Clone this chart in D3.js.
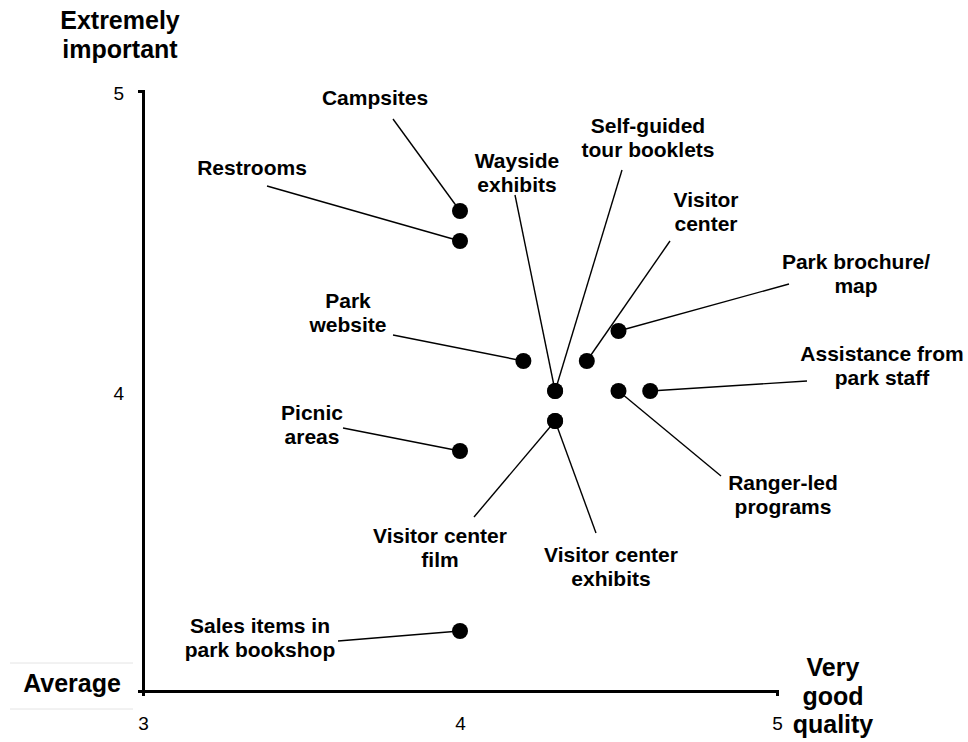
<!DOCTYPE html>
<html>
<head>
<meta charset="utf-8">
<script src="https://cdn.jsdelivr.net/npm/d3@7"></script>
<style>
  html, body { margin: 0; padding: 0; background: #fff; }
  svg { display: block; font-family: "Liberation Sans", Arial, sans-serif; }
</style>
</head>
<body>
<svg id="chart" width="968" height="742"></svg>
<script>
// ---- data ----
const items = [
  "Campsites", "Restrooms", "Wayside\nexhibits", "Self-guided\ntour booklets",
  "Visitor\ncenter", "Park brochure/\nmap", "Park\nwebsite", "Assistance from\npark staff",
  "Ranger-led\nprograms", "Picnic\nareas", "Visitor center\nfilm", "Visitor center\nexhibits",
  "Sales items in\npark bookshop"
];
const quality    = [4.0, 4.0, 4.3, 4.3, 4.4, 4.5, 4.2, 4.6, 4.5, 4.0, 4.3, 4.3, 4.0];
const importance = [4.6, 4.5, 4.0, 4.0, 4.1, 4.2, 4.1, 4.0, 4.0, 3.8, 3.9, 3.9, 3.2];
const xTicks = [3, 4, 5];
const yTicks = [4, 5];
const yTitle = ["Extremely", "important"];
const yLowLabel = "Average";
const xTitle = ["Very", "good", "quality"];

// ---- layout (label placement, pixels) ----
const labelLayout = [
  {cx: 375, by: 105, lx: 393, ly: 119},
  {cx: 252, by: 175, lx: 267, ly: 186},
  {cx: 517, by: 168, lx: 515, ly: 195},
  {cx: 648, by: 133, lx: 622, ly: 170},
  {cx: 706, by: 207, lx: 670, ly: 241},
  {cx: 856, by: 269, lx: 789, ly: 284},
  {cx: 348, by: 308, lx: 393, ly: 335},
  {cx: 882, by: 361, lx: 807, ly: 381},
  {cx: 783, by: 490, lx: 721, ly: 476},
  {cx: 312, by: 420, lx: 343, ly: 428},
  {cx: 440, by: 543, lx: 474, ly: 517},
  {cx: 611, by: 562, lx: 596, ly: 533},
  {cx: 260, by: 633, lx: 338, ly: 641}
];

const svg = d3.select("#chart");
const x = d3.scaleLinear().domain([3, 5]).range([143, 777]);
const y = d3.scaleLinear().domain([3, 5]).range([691, 91]);

// faint box lines around "Average"
svg.append("g").selectAll("line").data([663, 709]).join("line")
  .attr("x1", 10).attr("x2", 133).attr("y1", d => d).attr("y2", d => d)
  .attr("stroke", "#e4e4e4").attr("stroke-width", 1);

// axes
const xAxis = d3.axisBottom(x).tickValues(xTicks).tickSize(0).tickSizeOuter(5).tickPadding(26).tickFormat(d3.format("d"));
const yAxis = d3.axisLeft(y).tickValues(yTicks).tickSize(0).tickSizeOuter(5).tickPadding(19).tickFormat(d3.format("d"));

const gx = svg.append("g").attr("transform", "translate(0,691)").call(xAxis);
const gy = svg.append("g").attr("transform", "translate(143,0)").call(yAxis);
[gx, gy].forEach(g => {
  g.select(".domain").attr("stroke", "#000").attr("stroke-width", 3).attr("fill", "none");
  g.selectAll(".tick text").attr("font-size", 19).attr("fill", "#000")
    .attr("font-family", "Liberation Sans, Arial, sans-serif");
});
gy.selectAll(".tick text").attr("dy", "0.45em");

// axis titles
svg.append("text").attr("font-size", 25).attr("font-weight", "bold").attr("text-anchor", "middle")
  .selectAll("tspan").data(yTitle).join("tspan")
  .attr("x", 120).attr("y", (d, i) => 29 + i * 29).text(d => d);
svg.append("text").attr("font-size", 25).attr("font-weight", "bold").attr("text-anchor", "middle")
  .attr("x", 72).attr("y", 692).text(yLowLabel);
svg.append("text").attr("font-size", 25).attr("font-weight", "bold").attr("text-anchor", "middle")
  .selectAll("tspan").data(xTitle).join("tspan")
  .attr("x", 833).attr("y", (d, i) => 676 + i * 28.5).text(d => d);

// data join
const data = items.map((name, i) => ({
  name, q: quality[i], imp: importance[i], lay: labelLayout[i]
}));

// leader lines
svg.append("g").selectAll("line").data(data).join("line")
  .attr("x1", d => d.lay.lx).attr("y1", d => d.lay.ly)
  .attr("x2", d => x(d.q)).attr("y2", d => y(d.imp))
  .attr("stroke", "#000").attr("stroke-width", 1.4);

// dots
svg.append("g").selectAll("circle").data(data).join("circle")
  .attr("cx", d => x(d.q)).attr("cy", d => y(d.imp)).attr("r", 8).attr("fill", "#000");

// labels
const lbl = svg.append("g").selectAll("text").data(data).join("text")
  .attr("font-size", 21).attr("font-weight", "bold").attr("text-anchor", "middle").attr("fill", "#000");
lbl.selectAll("tspan").data(d => d.name.split("\n").map((t, j) => ({t, j, lay: d.lay}))).join("tspan")
  .attr("x", d => d.lay.cx).attr("y", d => d.lay.by + d.j * 24).text(d => d.t);
</script>
</body>
</html>
